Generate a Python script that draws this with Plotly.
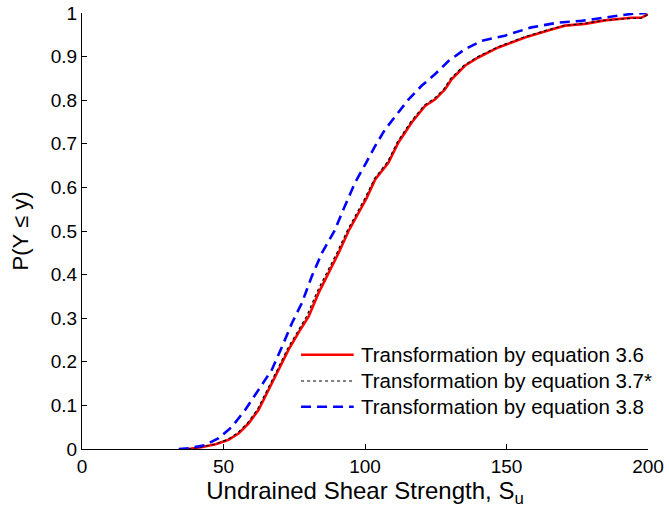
import plotly.graph_objects as go

# Empirical CDFs of undrained shear strength for three transformations
su_eq36 = [37.7, 42.0, 47.2, 51.8, 55.4, 58.9, 62.4, 66.0, 69.5, 73.0, 76.5, 80.1,
           83.6, 87.1, 90.7, 94.2, 97.5, 100.6, 103.6, 108.3, 111.8, 116.5, 121.2,
           124.8, 128.3, 130.6, 135.3, 140.0, 147.1, 156.5, 164.7, 170.6, 177.7,
           184.7, 194.1, 197.6, 199.4, 200.0]
p_eq36 = [0.0, 0.004, 0.011, 0.021, 0.036, 0.059, 0.090, 0.136, 0.182, 0.228, 0.267,
          0.304, 0.358, 0.404, 0.450, 0.500, 0.540, 0.576, 0.618, 0.657, 0.703, 0.749,
          0.787, 0.802, 0.825, 0.848, 0.879, 0.898, 0.921, 0.944, 0.960, 0.971, 0.975,
          0.983, 0.989, 0.989, 0.995, 0.997]

su_eq37 = [37.5, 41.8, 47.0, 51.5, 55.0, 58.5, 62.0, 65.6, 69.1, 72.5, 76.0, 79.5,
           83.0, 86.6, 90.2, 93.8, 97.1, 100.2, 103.3, 108.0, 111.5, 116.2, 121.0,
           124.5, 128.0, 130.3, 135.0, 139.6, 146.8, 156.2, 164.4, 170.3, 177.4,
           184.4, 193.9, 197.4, 199.3, 200.0]
p_eq37 = [0.0, 0.004, 0.011, 0.022, 0.037, 0.060, 0.091, 0.137, 0.183, 0.229, 0.268,
          0.306, 0.360, 0.406, 0.452, 0.502, 0.542, 0.578, 0.620, 0.659, 0.705, 0.751,
          0.789, 0.804, 0.827, 0.850, 0.880, 0.899, 0.922, 0.945, 0.961, 0.971, 0.976,
          0.983, 0.988, 0.988, 0.994, 0.997]

su_eq38 = [34.2, 38.0, 43.6, 48.3, 53.0, 57.7, 62.4, 67.1, 70.7, 74.2, 77.7, 81.2,
           84.8, 89.2, 92.4, 94.2, 96.5, 100.1, 103.6, 107.1, 110.7, 115.4, 120.0,
           124.8, 129.5, 135.3, 141.2, 149.4, 158.8, 168.3, 176.5, 186.0, 194.1, 199.4]
p_eq38 = [0.0, 0.002, 0.009, 0.025, 0.051, 0.090, 0.136, 0.182, 0.235, 0.289, 0.335,
          0.396, 0.450, 0.500, 0.550, 0.576, 0.611, 0.653, 0.695, 0.733, 0.764, 0.802,
          0.833, 0.860, 0.890, 0.917, 0.936, 0.948, 0.967, 0.978, 0.982, 0.990, 0.998,
          1.0]

legend_labels = ["Transformation by equation 3.6",
                 "Transformation by equation 3.7*",
                 "Transformation by equation 3.8"]

x_ticks = [0, 50, 100, 150, 200]
y_ticks = [0, 0.1, 0.2, 0.3, 0.4, 0.5, 0.6, 0.7, 0.8, 0.9, 1]
y_tick_text = ["0", "0.1", "0.2", "0.3", "0.4", "0.5", "0.6", "0.7", "0.8", "0.9", "1"]

FONT = "Arial, Liberation Sans, Helvetica, sans-serif"

styles = [
    dict(color="#ff0000", width=2.6, dash="solid"),
    dict(color="#000000", width=1.2, dash="dot"),
    dict(color="#0000ff", width=2.6, dash="10px,6px"),
]

fig = go.Figure()
fig.add_trace(go.Scatter(x=su_eq36, y=p_eq36, mode="lines", line=styles[0],
                         name=legend_labels[0], showlegend=False))
fig.add_trace(go.Scatter(x=su_eq37, y=p_eq37, mode="lines", line=styles[1],
                         name=legend_labels[1], showlegend=False))
fig.add_trace(go.Scatter(x=su_eq38, y=p_eq38, mode="lines", line=styles[2],
                         name=legend_labels[2], showlegend=False))

# Legend drawn as sample lines plus text, lower right of the axes
legend_y = [0.216, 0.156, 0.097]
for label, st, ly in zip(legend_labels, styles, legend_y):
    fig.add_shape(type="line", xref="paper", yref="paper",
                  x0=0.387, x1=0.480, y0=ly, y1=ly,
                  line=dict(color=st["color"], width=st["width"], dash=st["dash"]))
    fig.add_annotation(xref="paper", yref="paper", x=0.490, y=ly, text=label,
                       showarrow=False, xanchor="left", yanchor="middle",
                       font=dict(family=FONT, size=20.5, color="black"))

axis_common = dict(showline=True, linecolor="black", linewidth=1, mirror=False,
                   ticks="inside", ticklen=5, tickcolor="black", showgrid=False,
                   zeroline=False, automargin=False,
                   tickfont=dict(family=FONT, size=19, color="black"))

fig.update_xaxes(range=[0, 200], tickvals=x_ticks, **axis_common,
                 title=dict(text="Undrained Shear Strength, S<sub>u</sub>",
                            font=dict(family=FONT, size=24, color="black"), standoff=2))
fig.update_yaxes(range=[0, 1], tickvals=y_ticks, ticktext=y_tick_text, **axis_common,
                 title=dict(text="P(Y \u2264 y)",
                            font=dict(family=FONT, size=22, color="black"), standoff=16))

fig.update_layout(width=669, height=516, margin=dict(l=82, r=21, t=13, b=67),
                  plot_bgcolor="white", paper_bgcolor="white")

fig.write_html("out.html")
